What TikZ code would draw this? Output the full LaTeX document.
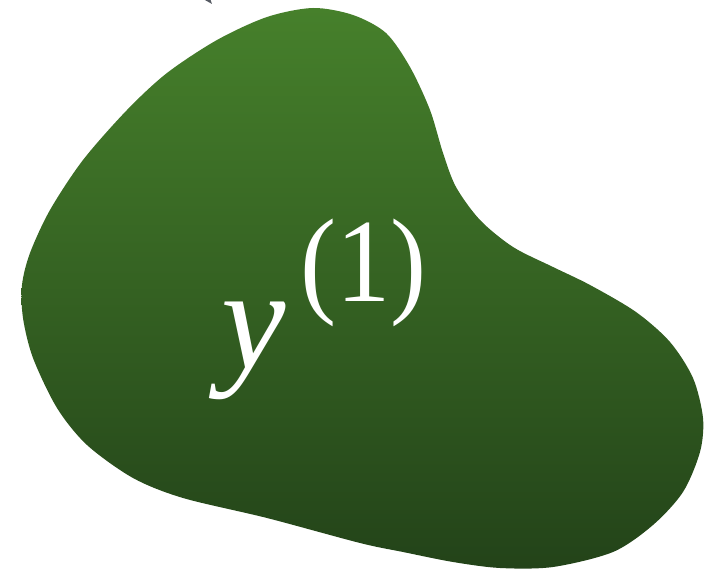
\documentclass[tikz,border=0pt]{standalone}
\usepackage{fontspec}
\setmainfont{Liberation Serif}
\usepackage{tikz}
\usetikzlibrary{arrows.meta}
\definecolor{leaf}{HTML}{46802B}
\definecolor{moss}{HTML}{234319}
\definecolor{slate}{HTML}{555A62}
\tikzset{
  blob/.style={top color=leaf,bottom color=moss,draw=none},
  lbl/.style={text=white,inner sep=0pt,anchor=base west},
  arrow/.style={-{Stealth[length=16pt,width=12pt]},line width=2.5pt,color=slate},
}

\begin{document}
\begin{tikzpicture}[x=1pt,y=1pt]
    \useasboundingbox (0,0) rectangle (713,570);
    \shade[blob] plot[smooth cycle,tension=0.5] coordinates {
      (313,562) (353,555) (386,537) (410,503) (430,460) (443,417) (456,383)
      (480,350) (513,323) (553,303) (590,285) (636,258) (670,228) (693,192)
      (703,152) (700,118) (683,78) (653,45) (613,18) (553,3) (500,2) (453,8)
      (403,18) (360,27) (267,52) (183,72) (133,92) (87,125) (57,162) (33,212)
      (23,252) (22,285) (30,317) (50,360) (83,410) (127,460) (167,497)
      (217,530) (267,553)};
    \node[lbl] (y1) at (221,201) {\fontsize{145}{145}\selectfont\itshape y\hspace{15pt}%
      \raisebox{67pt}{\scalebox{0.91}[1]{\fontsize{119}{119}\selectfont\upshape (1)}}};
    % incoming arrow, cut by the page edge
    \coordinate (src) at (150,640);
    \coordinate (tip) at (212,566);
    \draw[arrow] (src) -- (tip);
\end{tikzpicture}
\end{document}
